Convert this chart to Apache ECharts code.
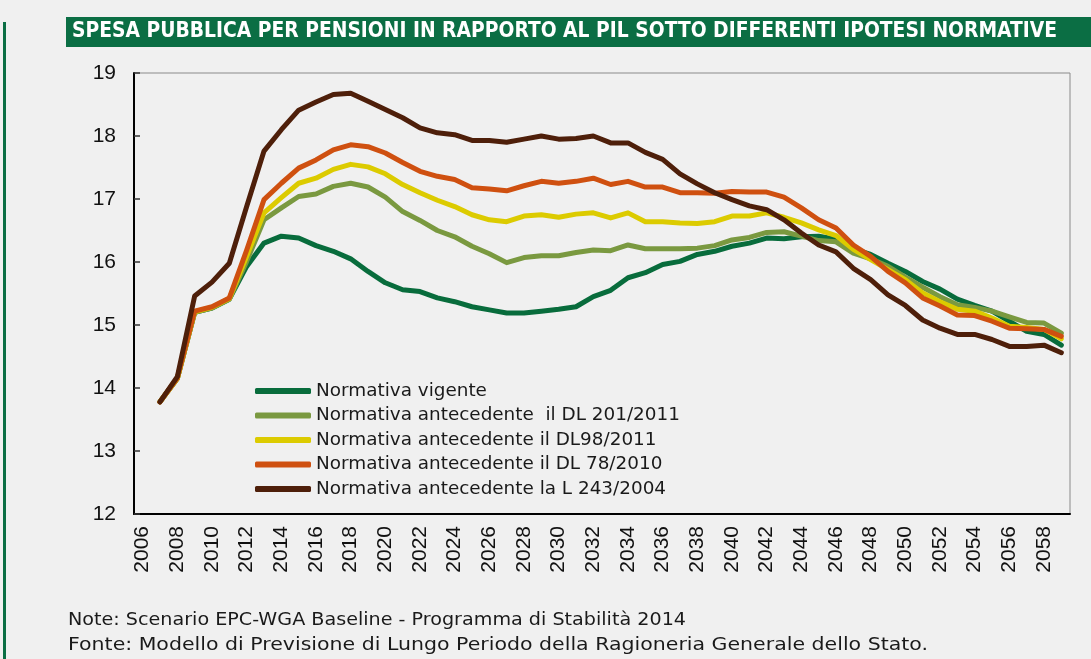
<!DOCTYPE html>
<html><head><meta charset="utf-8">
<script src="https://cdn.jsdelivr.net/npm/echarts@6/dist/echarts.min.js"></script>
<style>html,body{margin:0;padding:0;background:#f0f0f0}#c{width:1091px;height:659px}</style>
</head><body><div id="c"></div>
<script>
const years = ['2006','2007','2008','2009','2010','2011','2012','2013','2014','2015','2016','2017','2018','2019','2020','2021','2022','2023','2024','2025','2026','2027','2028','2029','2030','2031','2032','2033','2034','2035','2036','2037','2038','2039','2040','2041','2042','2043','2044','2045','2046','2047','2048','2049','2050','2051','2052','2053','2054','2055','2056','2057','2058','2059'];
// values 2007..2059
const vigente = [13.78,14.15,15.2,15.27,15.41,15.93,16.3,16.41,16.38,16.26,16.17,16.05,15.85,15.67,15.56,15.53,15.43,15.37,15.29,15.24,15.19,15.19,15.22,15.25,15.29,15.45,15.55,15.75,15.83,15.96,16.01,16.12,16.17,16.25,16.3,16.38,16.37,16.4,16.41,16.36,16.21,16.12,15.98,15.85,15.69,15.57,15.41,15.31,15.22,15.06,14.9,14.85,14.68];
const dl201 = [13.78,14.15,15.2,15.27,15.41,16.01,16.67,16.86,17.04,17.08,17.2,17.25,17.19,17.03,16.8,16.66,16.5,16.4,16.25,16.13,15.99,16.07,16.1,16.1,16.15,16.19,16.18,16.27,16.21,16.21,16.21,16.22,16.26,16.35,16.39,16.47,16.48,16.41,16.34,16.32,16.14,16.05,15.93,15.76,15.6,15.45,15.32,15.28,15.22,15.13,15.04,15.03,14.87];
const dl98 = [13.78,14.15,15.21,15.28,15.42,16.09,16.78,17.02,17.25,17.33,17.47,17.55,17.51,17.4,17.23,17.1,16.98,16.88,16.75,16.67,16.64,16.73,16.75,16.71,16.76,16.78,16.7,16.78,16.64,16.64,16.62,16.61,16.64,16.73,16.73,16.78,16.71,16.62,16.51,16.42,16.2,16.04,15.88,15.72,15.51,15.37,15.25,15.22,15.11,14.98,14.96,14.93,14.78];
const dl78 = [13.78,14.16,15.22,15.29,15.43,16.19,16.99,17.25,17.49,17.62,17.78,17.86,17.83,17.73,17.58,17.44,17.36,17.31,17.18,17.16,17.13,17.21,17.28,17.25,17.28,17.33,17.23,17.28,17.19,17.19,17.1,17.1,17.09,17.12,17.11,17.11,17.03,16.86,16.67,16.54,16.27,16.09,15.85,15.67,15.43,15.3,15.16,15.15,15.06,14.95,14.94,14.93,14.82];
const l243 = [13.78,14.18,15.46,15.68,15.98,16.88,17.76,18.1,18.41,18.54,18.66,18.68,18.55,18.42,18.29,18.13,18.05,18.02,17.93,17.93,17.9,17.95,18.0,17.95,17.96,18.0,17.89,17.89,17.74,17.63,17.4,17.24,17.1,16.99,16.89,16.83,16.67,16.46,16.27,16.16,15.9,15.72,15.48,15.31,15.08,14.95,14.85,14.85,14.77,14.66,14.66,14.68,14.56];
const seriesNames = ['Normativa vigente','Normativa antecedente  il DL 201/2011','Normativa antecedente il DL98/2011','Normativa antecedente il DL 78/2010','Normativa antecedente la L 243/2004'];
const seriesData = [vigente, dl201, dl98, dl78, l243];
const colors = ['#086c3c','#7a9940','#dccb00','#cf5010','#4e1f0a'];
const yTicks = [12,13,14,15,16,17,18,19];
const titleText = 'SPESA PUBBLICA PER PENSIONI IN RAPPORTO AL PIL SOTTO DIFFERENTI IPOTESI NORMATIVE';
const note1 = 'Note: Scenario EPC-WGA Baseline - Programma di Stabilità 2014';
const note2 = 'Fonte: Modello di Previsione di Lungo Periodo della Ragioneria Generale dello Stato.';

const titleFont = '"Liberation Sans Narrow", "DejaVu Sans Condensed", "Liberation Sans", sans-serif';
const cv = document.createElement('canvas').getContext('2d');
cv.font = 'bold 21px ' + titleFont;
const tScale = 985 / cv.measureText(titleText).width;
cv.font = '18px "DejaVu Sans"';
const n2Scale = 860 / cv.measureText(note2).width;
const n1Scale = 618 / cv.measureText(note1).width;
cv.font = '17px "DejaVu Sans"';
const lScale = 350 / cv.measureText(seriesNames[4]).width;
const legendFont = Math.round(17 * lScale * 10) / 10;

const chart = echarts.init(document.getElementById('c'), null, {renderer:'canvas'});
chart.setOption({
  backgroundColor: '#f0f0f0',
  animation: false,
  color: colors,
  grid: {left:134, right:21, top:73, bottom:145, show:true, borderColor:'#8a8a8a', borderWidth:1, backgroundColor:'transparent'},
  legend: {
    orient:'vertical', left:255, top:382, padding:0,
    icon:'roundRect', itemWidth:56, itemHeight:6, itemGap:6.5,
    textStyle:{fontFamily:'DejaVu Sans', fontSize:legendFont, color:'#1a1a1a', lineHeight:18},
    data: seriesNames
  },
  xAxis: {
    type:'category', data: years, boundaryGap:true,
    axisLine:{lineStyle:{color:'#000', width:2}},
    axisTick:{interval:0, length:5, lineStyle:{color:'#000', width:1.5}},
    axisLabel:{interval:1, rotate:90, margin:12, fontFamily:'Liberation Sans', fontSize:21, color:'#111'},
    splitLine:{show:false}
  },
  yAxis: {
    type:'value', min:yTicks[0], max:yTicks[yTicks.length-1], interval:1,
    axisLine:{show:true, lineStyle:{color:'#000', width:2}},
    axisTick:{show:true, inside:true, length:6, lineStyle:{color:'#333', width:1.5}},
    axisLabel:{margin:18, fontFamily:'Liberation Sans', fontSize:21, color:'#111'},
    splitLine:{show:false}
  },
  series: seriesData.map((d,i)=>({
    name: seriesNames[i], type:'line', data:[null].concat(d),
    symbol:'none', smooth:false, connectNulls:false,
    lineStyle:{width:5, cap:'round', join:'round', color:colors[i]},
    itemStyle:{color:colors[i]}
  })),
  graphic: [
    {type:'rect', left:3, top:22, shape:{width:3, height:640}, style:{fill:'#0b6e44'}},
    {type:'rect', left:66, top:17, shape:{width:1030, height:30}, style:{fill:'#0b6e44'}},
    {type:'text', x:72, y:32, scaleX:tScale, style:{text:titleText, fill:'#fff', fontWeight:'bold', fontSize:21, fontFamily:titleFont, verticalAlign:'middle'}},
    {type:'text', x:68, y:620, scaleX:n1Scale, style:{text:note1, fill:'#1a1a1a', fontSize:18, fontFamily:'DejaVu Sans', verticalAlign:'middle'}},
    {type:'text', x:68, y:645, scaleX:n2Scale, style:{text:note2, fill:'#1a1a1a', fontSize:18, fontFamily:'DejaVu Sans', verticalAlign:'middle'}}
  ]
});
</script></body></html>
